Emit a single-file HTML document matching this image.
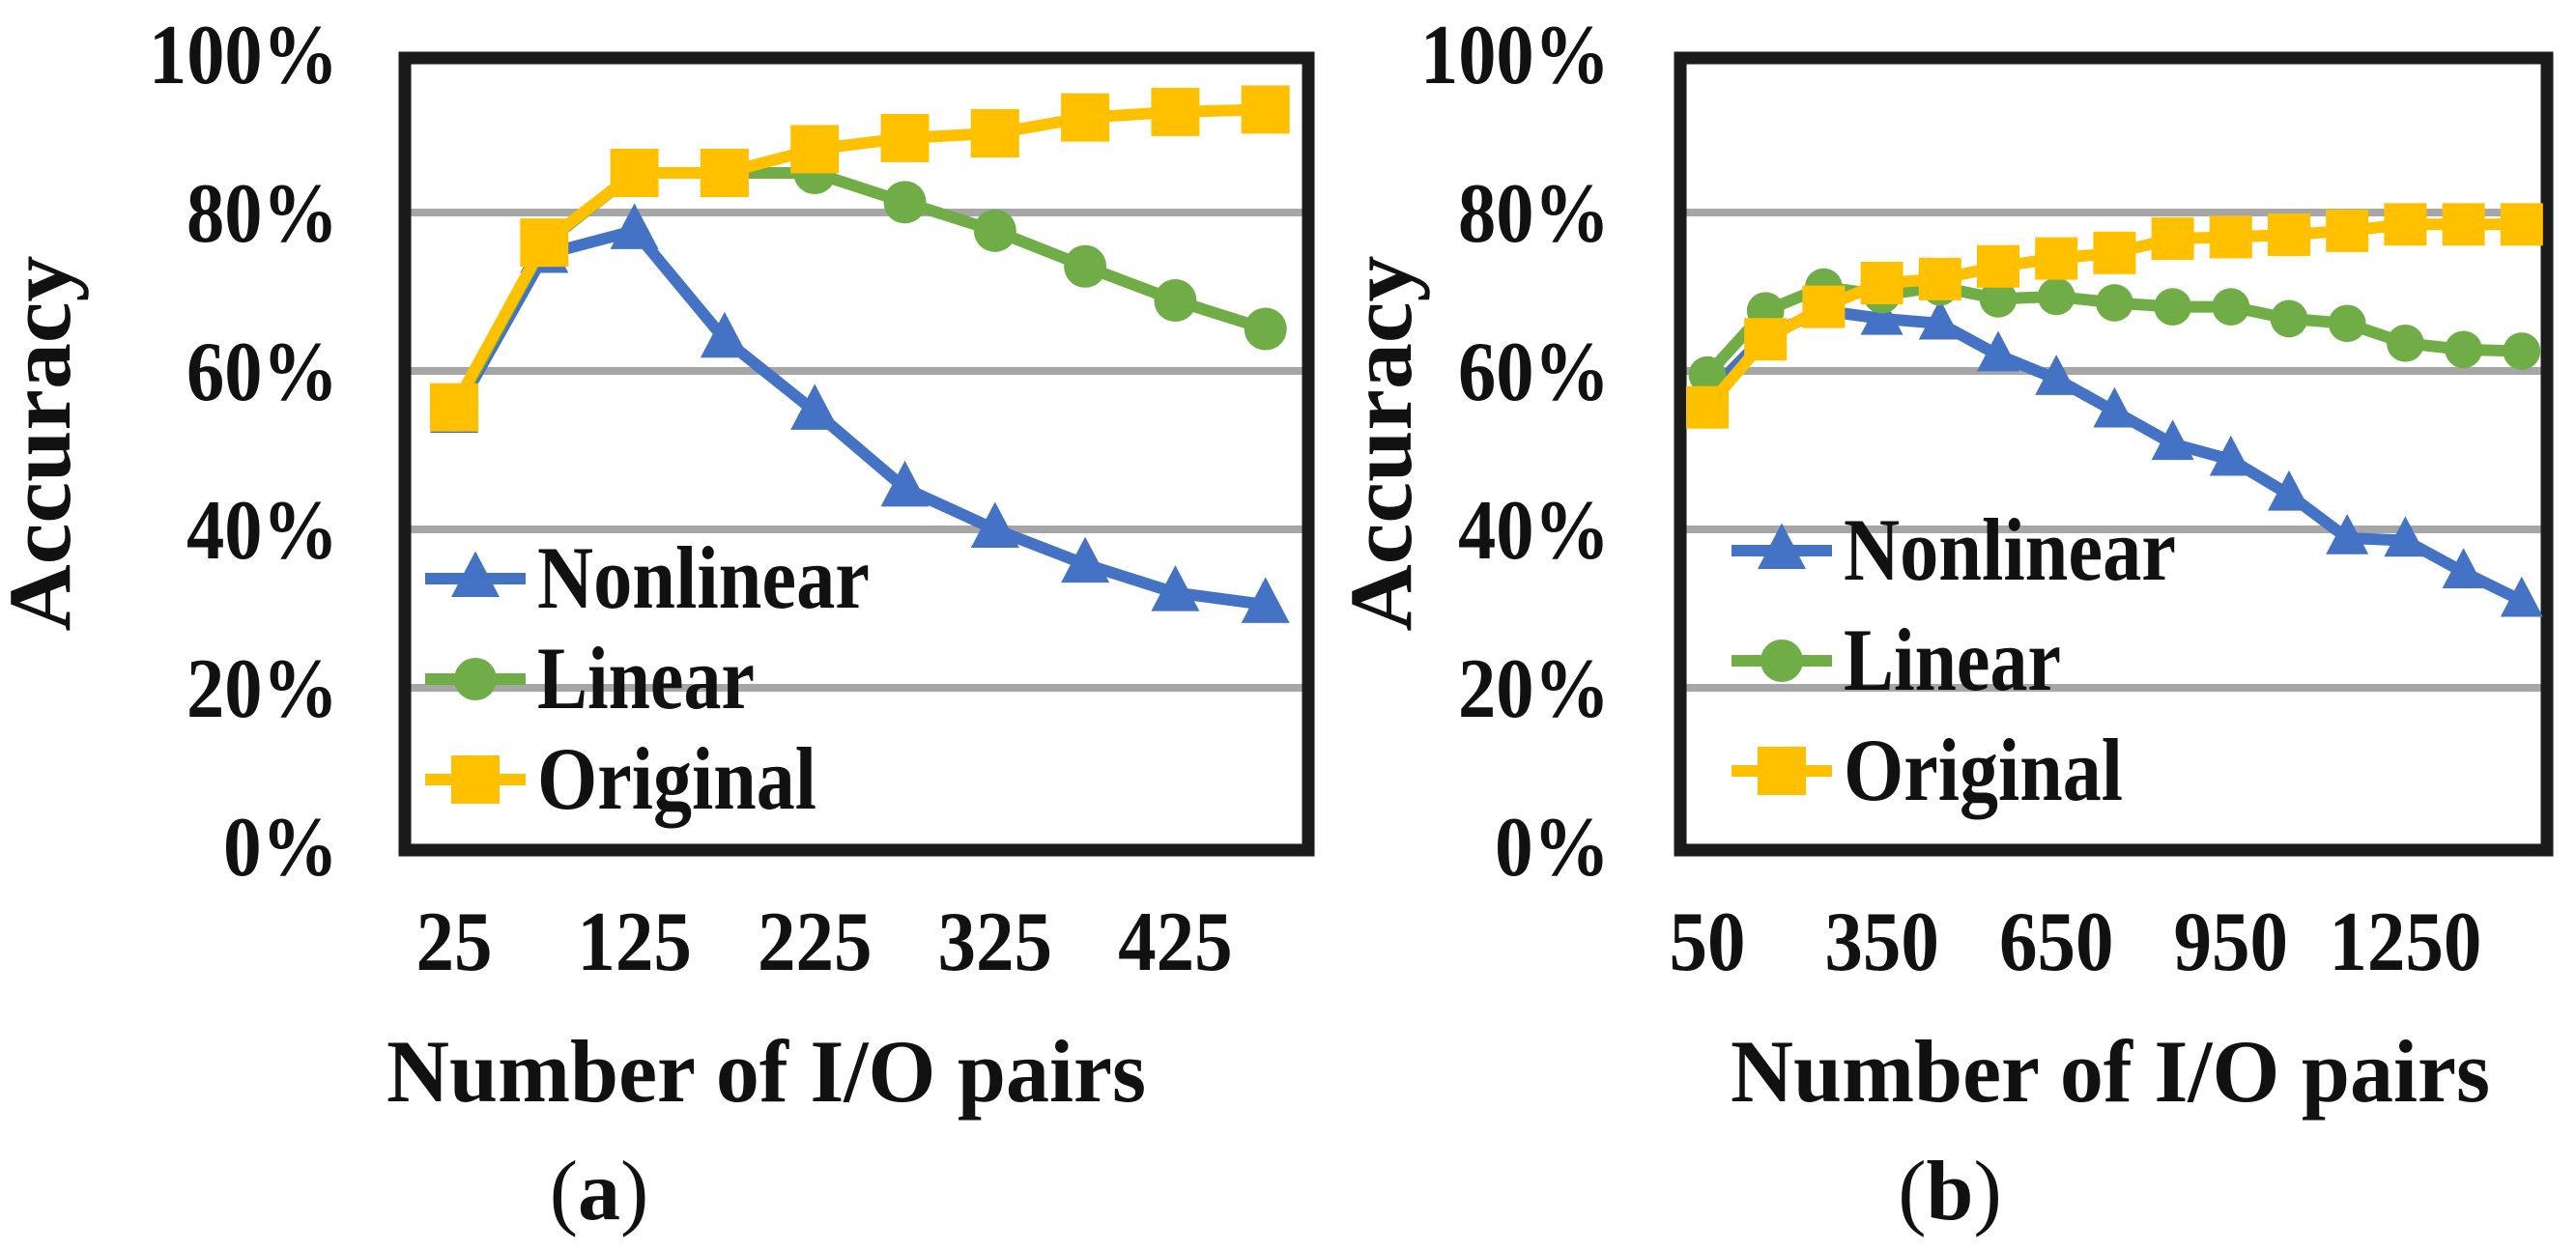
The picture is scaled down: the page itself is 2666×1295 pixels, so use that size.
<!DOCTYPE html>
<html><head><meta charset="utf-8"><style>
html,body{margin:0;padding:0;background:#fff;}
svg{display:block;}
text{font-family:"Liberation Serif",serif;fill:#111;}
</style></head><body>
<svg id="fig" width="2666" height="1295" viewBox="0 0 2666 1295" xmlns="http://www.w3.org/2000/svg"></svg>
<script>
// ---- chart (a) data ----
const catsA = [25,75,125,175,225,275,325,375,425,475];
const tickA = ["25","125","225","325","425"];
const nonlinA = [54.5,74.7,77.7,64,54.9,45.2,40,35.6,32,30.5];
const linA = [55,76,85,85,85,81.3,77.7,73.2,68.9,65.3];
const origA = [55.4,76.2,85,85,88,89.4,90,92,92.7,93];
// ---- chart (b) data ----
const catsB = [50,150,250,350,450,550,650,750,850,950,1050,1150,1250,1350,1450];
const tickB = ["50","350","650","950","1250"];
const nonlinB = [57,64.5,67.6,66.6,66,62,59,54.9,50.8,48.8,44.4,38.9,38.6,34.6,31];
const linB = [59.5,67.6,70.6,69.6,70.6,69.1,69.4,68.6,68.1,68.1,66.6,66,63.5,62.7,62.5];
const origB = [55.4,64,68.1,71.1,71.6,73.2,74.2,74.9,76.7,76.9,77.2,77.7,78.5,78.5,78.5];
const yTicks = [0,20,40,60,80,100];
const yTickLabels = ["0%","20%","40%","60%","80%","100%"];

const NS="http://www.w3.org/2000/svg";
const svg=document.getElementById('fig');
function mk(tag,attrs,parent){const e=document.createElementNS(NS,tag);for(const k in attrs)e.setAttribute(k,attrs[k]);(parent||svg).appendChild(e);return e;}
const BLUE="#4472C4",GREEN="#70AD47",ORANGE="#FFC000";
const pctW={2:119,3:157,4:196};

function drawChart(cfg){
  const g=mk('g',{});
  
  
  const y0=876,y100=56;
  const yS=v=>y0-(v/100)*(y0-y100);
  const xS=c=>cfg.x0+(c-cfg.cats[0])/cfg.step*cfg.dx;
  yTicks.forEach((t,i)=>{
    if(t>0&&t<100){
      const l=mk('line',{x1:cfg.fl,x2:cfg.fr,y1:yS(t),y2:yS(t),stroke:'#A6A6A6','stroke-width':8},g);
      
      
    }
    const lab=yTickLabels[i];
    const tx=mk('text',{x:cfg.ylx,y:yS(t)+30,'text-anchor':'end','font-size':88,'font-weight':'bold',textLength:pctW[lab.length],lengthAdjust:'spacingAndGlyphs'},g);
    tx.textContent=lab;
    
    
  });
  const fr=mk('rect',{x:cfg.fl,y:60,width:cfg.fr-cfg.fl,height:y0-60+4,fill:'none',stroke:'#1a1a1a','stroke-width':13},g);
  
  
  cfg.ticks.forEach(t=>{
    const tx=mk('text',{x:xS(+t),y:1004,'text-anchor':'middle','font-size':88,'font-weight':'bold',textLength:t.length*39.5,lengthAdjust:'spacingAndGlyphs'},g);
    tx.textContent=t;
    
    
  });
  const series=[
    {n:'nonlinear',vals:cfg.non,c:BLUE,m:'tri'},
    {n:'linear',vals:cfg.lin,c:GREEN,m:'ci'},
    {n:'original',vals:cfg.orig,c:ORANGE,m:'sq'}
  ];
  series.forEach(s=>{
    const sg=mk('g',{},g);
    
    
    const pts=cfg.cats.map((c,i)=>xS(c)+','+yS(s.vals[i])).join(' ');
    const pl=mk('polyline',{points:pts,fill:'none',stroke:s.c,'stroke-width':12,'stroke-linejoin':'round'},sg);
    
    
    cfg.cats.forEach((c,i)=>{
      const m=marker(s.m,xS(c),yS(s.vals[i]),s.c,sg,cfg.msz);
      
      
    });
  });
  const labels=[['Nonlinear',BLUE,'tri',344],['Linear',GREEN,'ci',225],['Original',ORANGE,'sq',289]];
  labels.forEach((L,i)=>{
    const ly=cfg.legY+i*cfg.legDy;
    const lg=mk('g',{},g);
    
    
    mk('line',{x1:cfg.legX,x2:cfg.legX+104,y1:ly,y2:ly,stroke:L[1],'stroke-width':12},lg);
    marker(L[2],cfg.legX+52,ly,L[1],lg,50);
    const t=mk('text',{x:cfg.legX+116,y:ly+30,'font-size':92,'font-weight':'bold',textLength:L[3],lengthAdjust:'spacingAndGlyphs'},lg);
    t.textContent=L[0];
  });
  const yt=mk('text',{x:0,y:0,'text-anchor':'middle','font-size':92,'font-weight':'bold',textLength:389,lengthAdjust:'spacingAndGlyphs',transform:`translate(${cfg.ytX},459) rotate(-90)`},g);
  yt.textContent='Accuracy';
  
  
  const xt=mk('text',{x:cfg.xtX,y:1140,'text-anchor':'middle','font-size':92,'font-weight':'bold',textLength:786,lengthAdjust:'spacingAndGlyphs'},g);
  xt.textContent='Number of I/O pairs';
  
  
  const cap=mk('text',{x:cfg.capX,y:1262,'text-anchor':'middle','font-size':88},g);
  cap.innerHTML='(<tspan font-weight="bold">'+cfg.cap+'</tspan>)';
  
  
}
function marker(type,x,y,c,parent,sz){
  if(type==='sq') return mk('rect',{x:x-sz/2,y:y-sz/2,width:sz,height:sz,fill:c},parent);
  if(type==='ci') return mk('circle',{cx:x,cy:y,r:sz*0.44,fill:c},parent);
  const h=sz*0.95;
  return mk('polygon',{points:`${x},${y-h*0.6} ${x+sz/2},${y+h*0.4} ${x-sz/2},${y+h*0.4}`,fill:c},parent);
}
drawChart({name:'chart-a',cats:catsA,ticks:tickA,non:nonlinA,lin:linA,orig:origA,
  fl:419,fr:1354,x0:470,step:50,dx:93.3,ylx:350,msz:50,legX:440,legY:599,legDy:104,ytX:72,xtX:793,capX:620,cap:'a'});
drawChart({name:'chart-b',cats:catsB,ticks:tickB,non:nonlinB,lin:linB,orig:origB,
  fl:1739,fr:2636,x0:1767,step:100,dx:60.2,ylx:1666,msz:44,legX:1792,legY:570,legDy:114,ytX:1460,xtX:2184,capX:2018,cap:'b'});
</script>
</body></html>
